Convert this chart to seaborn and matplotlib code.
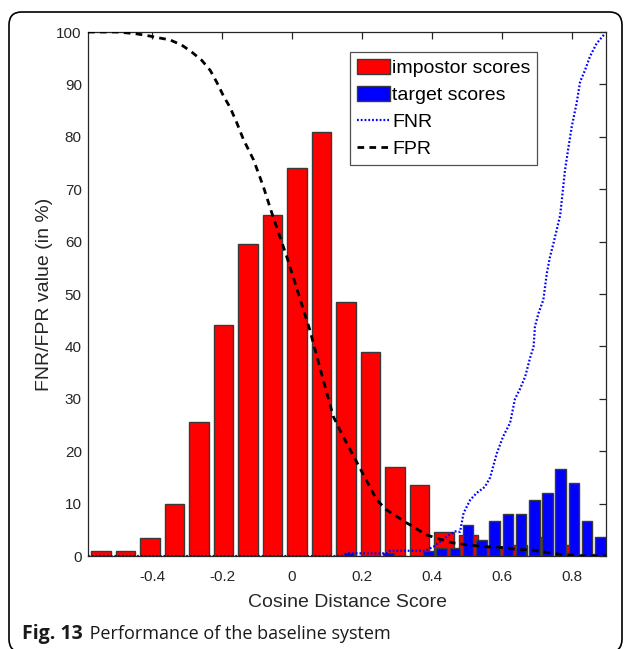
import numpy as np
import pandas as pd
import matplotlib
matplotlib.use("Agg")
import matplotlib.pyplot as plt
import seaborn as sns
from matplotlib.patches import Patch, FancyBboxPatch
from matplotlib.lines import Line2D

# ---------------- data ----------------
red_centers = [-0.546, -0.476, -0.406, -0.336, -0.266, -0.196, -0.126, -0.056, 0.014, 0.084,
               0.154, 0.224, 0.294, 0.364, 0.434, 0.504, 0.574, 0.644, 0.714, 0.784, 0.854]
red_counts = [1, 1, 3.5, 10, 25.5, 44, 59.5, 65, 74, 81,
              48.5, 39, 17, 13.5, 4.5, 4, 1.7, 2.1, 3.7, 2.1, 0.3]

blue_centers = [0.163, 0.201, 0.239, 0.276, 0.314, 0.352, 0.390, 0.428, 0.465, 0.503,
                0.541, 0.579, 0.616, 0.654, 0.692, 0.730, 0.768, 0.805, 0.843, 0.881]
blue_counts = [0.5, 0, 0, 0.5, 0, 0, 1.0, 1.5, 1.5, 6,
               3, 6.6, 8, 8, 10.6, 12, 16.6, 14, 6.6, 3.6]

fpr_x = [-0.583, -0.50, -0.45, -0.42, -0.382, -0.349, -0.315, -0.287, -0.258, -0.234,
         -0.215, -0.196, -0.177, -0.158, -0.139, -0.11, -0.082, -0.058, -0.015, 0.051,
         0.089, 0.118, 0.146, 0.189, 0.242, 0.27, 0.328, 0.385, 0.423, 0.46,
         0.494, 0.531, 0.57, 0.609, 0.646, 0.68, 0.717, 0.756, 0.79, 0.83, 0.897]
fpr_y = [100, 100, 99.7, 99.4, 98.9, 98.5, 97.5, 96.2, 94.6, 92.7,
         90.4, 87.8, 85.6, 82.7, 79.5, 75.6, 70.5, 65.5, 57.1, 43.1,
         33.6, 26.6, 22.8, 17.4, 10.7, 8.8, 6.3, 4.0, 3.2, 2.5,
         2.2, 1.9, 1.7, 1.6, 1.2, 1.2, 0.8, 0.4, 0.2, 0, 0]

fnr_x = [-0.583, 0.142, 0.16, 0.27, 0.28, 0.38, 0.405, 0.442, 0.466, 0.48,
         0.49, 0.509, 0.527, 0.551, 0.566, 0.585, 0.603, 0.623, 0.637, 0.65,
         0.666, 0.68, 0.69, 0.694, 0.704, 0.718, 0.728, 0.737, 0.747, 0.756,
         0.766, 0.78, 0.79, 0.799, 0.813, 0.823, 0.837, 0.851, 0.87, 0.894]
fnr_y = [0, 0, 0.5, 0.5, 1.0, 1.0, 1.8, 3.7, 4.7, 4.6,
         8.2, 10.7, 12, 13.2, 15, 19.6, 22.8, 25.4, 30, 31.7,
         34.2, 37.8, 39.9, 43.8, 46.3, 48.9, 54, 57.1, 59.7, 62.2,
         65, 73.7, 78.1, 81.9, 86.4, 90.5, 92.7, 95.3, 97.8, 99.7]

x_ticks = [-0.4, -0.2, 0, 0.2, 0.4, 0.6, 0.8]
x_tick_labels = ["-0.4", "-0.2", "0", "0.2", "0.4", "0.6", "0.8"]
y_ticks = [0, 10, 20, 30, 40, 50, 60, 70, 80, 90, 100]

legend_labels = ["impostor scores", "target scores", "FNR", "FPR"]
x_label = "Cosine Distance Score"
y_label = "FNR/FPR value (in %)"
caption_bold = "Fig. 13"
caption_text = " Performance of the baseline system"

# ---------------- style ----------------
sns.set_style("white")
plt.rcParams["font.family"] = ["Liberation Sans", "DejaVu Sans"]
plt.rcParams["axes.unicode_minus"] = False

W, H = 630, 649
fig = plt.figure(figsize=(W / 100, H / 100), dpi=100)
ax = fig.add_axes([88 / W, 1 - 556 / H, (606 - 88) / W, (556 - 32) / H])


def bin_spec(c):
    c = np.asarray(c, dtype=float)
    w = float(np.mean(np.diff(c)))
    return w, (float(c[0] - w / 2), float(c[-1] + w / 2))


red_df = pd.DataFrame({"score": red_centers, "count": red_counts})
blue_df = pd.DataFrame({"score": blue_centers, "count": blue_counts})

edge_col = "#3a3a3a"
rw, rr = bin_spec(red_centers)
bw, br = bin_spec(blue_centers)
sns.histplot(data=red_df, x="score", weights="count", binwidth=rw, binrange=rr,
             shrink=0.8, color="#ff0000", alpha=1, edgecolor=edge_col, linewidth=1.0,
             ax=ax, zorder=2)
sns.histplot(data=blue_df, x="score", weights="count", binwidth=bw, binrange=br,
             shrink=0.8, color="#0000ff", alpha=1, edgecolor=edge_col, linewidth=1.0,
             ax=ax, zorder=3)

sns.lineplot(x=fnr_x, y=fnr_y, ax=ax, color="#0000ff", linewidth=1.6,
             linestyle=(0, (0.8, 0.9)), sort=False, estimator=None, zorder=4)
sns.lineplot(x=fpr_x, y=fpr_y, ax=ax, color="black", linewidth=2.0,
             linestyle=(0, (2.4, 1.9)), sort=False, estimator=None, zorder=5)

ax.set_xlim(-0.583, 0.897)
ax.set_ylim(0, 100)
ax.set_xticks(x_ticks)
ax.set_xticklabels(x_tick_labels)
ax.set_yticks(y_ticks)
spine_col = "#262626"
for s in ax.spines.values():
    s.set_visible(True)
    s.set_color(spine_col)
    s.set_linewidth(0.9)
ax.tick_params(direction="in", length=5, width=0.9, colors=spine_col,
               labelcolor=spine_col, labelsize=11, top=True, right=True,
               labeltop=False, labelright=False)
ax.tick_params(axis="x", pad=10)
ax.tick_params(axis="y", pad=4.5)
ax.set_xlabel(x_label, fontsize=14, color=spine_col, labelpad=7)
ax.set_ylabel(y_label, fontsize=14, color=spine_col, labelpad=2)

handles = [Patch(facecolor="#ff0000", edgecolor=edge_col, linewidth=1.0),
           Patch(facecolor="#0000ff", edgecolor=edge_col, linewidth=1.0),
           Line2D([], [], color="#0000ff", linewidth=1.6, linestyle=(0, (0.8, 0.9))),
           Line2D([], [], color="black", linewidth=2.0, linestyle=(0, (2.4, 1.9)))]
leg = ax.legend(handles, legend_labels, loc="upper left", bbox_to_anchor=(0.506, 0.962),
                borderaxespad=0, fontsize=14, frameon=True, fancybox=False,
                handlelength=1.7, handleheight=0.85, handletextpad=0.1,
                labelspacing=0.43, borderpad=0.35)
leg.get_frame().set_edgecolor(spine_col)
leg.get_frame().set_linewidth(0.9)
for t in leg.get_texts():
    t.set_color("black")

# caption
cap_y = 1 - 634 / H
fig.text(22 / W, cap_y, caption_bold, fontsize=14, fontweight="bold",
         family=["Open Sans", "DejaVu Sans"], va="center", ha="left", color="#1a1a1a")
fig.canvas.draw()
r = fig.texts[0].get_window_extent()
fig.text(r.x1 / W + 2 / W, cap_y, caption_text, fontsize=13,
         family=["Open Sans", "DejaVu Sans"], va="center", ha="left", color="#1a1a1a")

# rounded frame
frame = FancyBboxPatch((9 / W, -3 / H), (622 - 9) / W, (652 - 12) / H,
                       boxstyle="round,pad=0,rounding_size=0.02",
                       transform=fig.transFigure, fill=False,
                       edgecolor="black", linewidth=1.2, zorder=0)
fig.patches.append(frame)

fig.savefig("out.png", dpi=100)
